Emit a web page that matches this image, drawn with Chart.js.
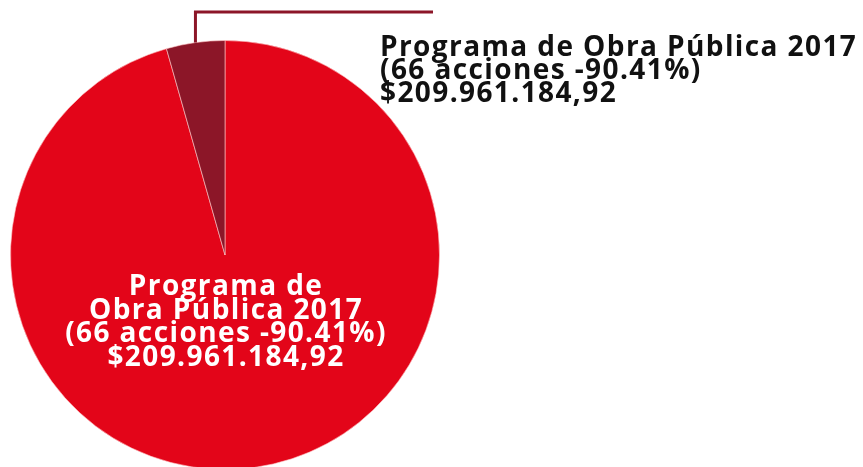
<!DOCTYPE html>
<html>
<head>
<meta charset="utf-8">
<script src="https://cdn.jsdelivr.net/npm/chart.js@4"></script>
<style>
  html, body { margin: 0; padding: 0; background: #fff; overflow: hidden; }
  #wrap { width: 863px; height: 467px; overflow: hidden; }
</style>
</head>
<body>
<div id="wrap"><canvas id="chart" width="863" height="470"></canvas></div>
<script>
// Data
const categories = ['Programa de Obra Pública 2017', 'Otros'];
const shares = [95.6, 4.4];
const sliceColors = ['#e30519', '#8c1628'];
const labelLines = ['Programa de Obra Pública 2017', '(66 acciones -90.41%)', '$209.961.184,92'];
const innerLines = ['Programa de', 'Obra Pública 2017', '(66 acciones -90.41%)', '$209.961.184,92'];

const FONT = '"Open Sans", Lato, sans-serif';

// Draws the inner label and the leader-line callout
const labelPlugin = {
  id: 'pieLabels',
  afterDraw(chart) {
    const ctx = chart.ctx;
    const arcs = chart.getDatasetMeta(0).data;
    const big = arcs[0];
    const small = arcs[1];

    ctx.save();
    ctx.letterSpacing = '1.4px';
    // inner label, centred on the pie
    ctx.fillStyle = '#ffffff';
    ctx.font = 'bold 28px ' + FONT;
    ctx.textAlign = 'center';
    ctx.textBaseline = 'alphabetic';
    innerLines.forEach((t, i) => {
      ctx.fillText(t, big.x + 1, big.y + 40 + i * 23.5);
    });

    // leader line from the small slice up and to the right
    const mid = (small.startAngle + small.endAngle) / 2;
    const sx = small.x + Math.cos(mid) * small.outerRadius;
    const sy = small.y + Math.sin(mid) * small.outerRadius;
    ctx.strokeStyle = sliceColors[1];
    ctx.lineWidth = 3;
    ctx.beginPath();
    ctx.moveTo(sx, sy);
    ctx.lineTo(sx, 12);
    ctx.lineTo(433, 12);
    ctx.stroke();

    // outside label
    ctx.fillStyle = '#111111';
    ctx.font = 'bold 28px ' + FONT;
    ctx.textAlign = 'left';
    labelLines.forEach((t, i) => {
      ctx.fillText(t, 380, 56 + i * 23);
    });
    ctx.restore();
  }
};

new Chart(document.getElementById('chart'), {
  type: 'pie',
  data: {
    labels: categories,
    datasets: [{
      data: shares,
      backgroundColor: sliceColors,
      borderColor: 'rgba(255, 200, 200, 0.6)',
      borderWidth: 1
    }]
  },
  options: {
    responsive: false,
    animation: false,
    layout: { padding: { left: 10, top: 40, right: 423, bottom: 0 } },
    plugins: {
      legend: { display: false },
      tooltip: { enabled: false }
    }
  },
  plugins: [labelPlugin]
});
</script>
</body>
</html>
